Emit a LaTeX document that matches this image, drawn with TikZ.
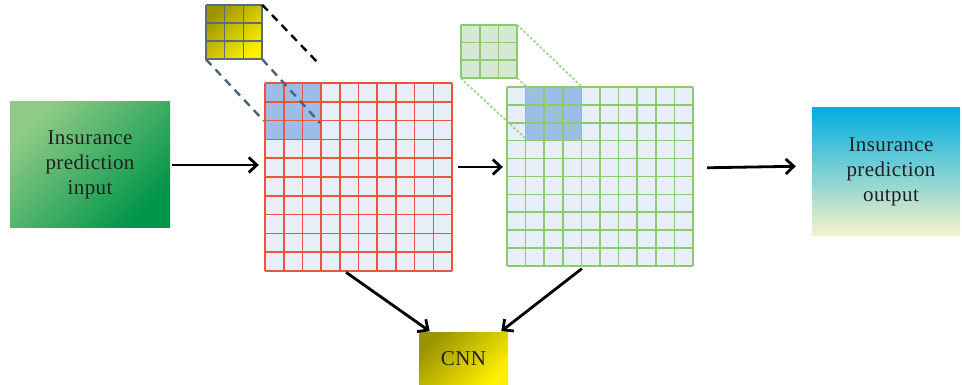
\documentclass[tikz,border=0pt]{standalone}
\usepackage{fontspec}
\setmainfont{Liberation Serif}[LetterSpace=2]
\usetikzlibrary{arrows.meta}
\definecolor{cellbg}{HTML}{E8EEF8}
\definecolor{cellblue}{HTML}{9BBDE6}
\definecolor{redline}{HTML}{E8573D}
\definecolor{greenline}{HTML}{8CCB6C}
\definecolor{greenk}{HTML}{D5E8D4}
\definecolor{kgray}{HTML}{5A6B7B}
\definecolor{dashblue}{HTML}{4A6378}
\definecolor{dotgreen}{HTML}{9FD58A}
\definecolor{inlight}{HTML}{8FCB86}
\definecolor{indark}{HTML}{00954A}
\definecolor{inmid}{HTML}{45B063}
\definecolor{ydark}{HTML}{9A9400}
\definecolor{ylight}{HTML}{FFF000}
\definecolor{ocyan}{HTML}{00AEDF}
\definecolor{omid}{HTML}{98D3D6}
\definecolor{opale}{HTML}{F6F2C9}
\definecolor{txtc}{HTML}{231F20}
\begin{document}
\begin{tikzpicture}[x=1pt,y=-1pt,
  txt/.style={font=\fontsize{21}{25}\selectfont, align=center, text=txtc},
  inbox/.style={txt, minimum width=160pt, minimum height=126pt, inner sep=0pt,
    top color=inlight, middle color=inmid, bottom color=indark, shading angle=45},
  outbox/.style={txt, minimum width=148pt, minimum height=127pt, inner sep=0pt,
    top color=ocyan, middle color=omid, bottom color=opale},
  cnnbox/.style={txt, minimum width=89pt, minimum height=53pt, inner sep=0pt,
    top color=ydark, bottom color=ylight, shading angle=45},
  ykbox/.style={minimum width=56pt, minimum height=54pt, inner sep=0pt,
    top color=ydark, bottom color=ylight, shading angle=45},
  gkbox/.style={minimum width=56pt, minimum height=53pt, inner sep=0pt, fill=greenk},
  gridbox/.style={inner sep=0pt, draw=none},
  rline/.style={draw=redline, line width=1.6pt},
  gline/.style={draw=greenline, line width=1.6pt},
  kline/.style={draw=kgray, line width=1.4pt},
  blackdash/.style={black, line width=2.4pt, dash pattern=on 8pt off 6pt},
  bluedash/.style={dashblue, line width=2.4pt, dash pattern=on 8pt off 6pt},
  dotline/.style={dotgreen, line width=1.8pt, dash pattern=on 2.5pt off 2pt},
  arr/.style={black, line width=2.8pt, -{Straight Barb[length=8pt,width=15pt]}}
]
\useasboundingbox (0,0) rectangle (962,385);

% input and output boxes
\node[inbox] (input) at (90,165) {Insurance\\prediction\\input};
\node[outbox] (output) at (886,171.5) {\hspace{10pt}Insurance\\\hspace{10pt}prediction\\\hspace{10pt}output};
\node[cnnbox] (cnn) at (463.5,358.5) {CNN};

% red grid
\fill[cellbg] (265,83) rectangle (452,271);
\fill[cellblue] (265,83) rectangle (321,139);
\path[rline] (265,83) -- (265,271) (283.7,83) -- (283.7,271) (302.4,83) -- (302.4,271)
  (321.1,83) -- (321.1,271) (339.8,83) -- (339.8,271) (358.5,83) -- (358.5,271)
  (377.2,83) -- (377.2,271) (395.9,83) -- (395.9,271) (414.6,83) -- (414.6,271)
  (433.3,83) -- (433.3,271) (452,83) -- (452,271)
  (265,83) -- (452,83) (265,101.8) -- (452,101.8) (265,120.6) -- (452,120.6)
  (265,139.4) -- (452,139.4) (265,158.2) -- (452,158.2) (265,177) -- (452,177)
  (265,195.8) -- (452,195.8) (265,214.6) -- (452,214.6) (265,233.4) -- (452,233.4)
  (265,252.2) -- (452,252.2) (265,271) -- (452,271);
\node[gridbox, minimum width=187pt, minimum height=188pt] (red) at (358.5,177) {};

% green grid
\fill[cellbg] (507,87) rectangle (693,266);
\fill[cellblue] (525.6,87) rectangle (581.4,140.7);
\path[gline] (507,87) -- (507,266) (525.6,87) -- (525.6,266) (544.2,87) -- (544.2,266)
  (562.8,87) -- (562.8,266) (581.4,87) -- (581.4,266) (600,87) -- (600,266)
  (618.6,87) -- (618.6,266) (637.2,87) -- (637.2,266) (655.8,87) -- (655.8,266)
  (674.4,87) -- (674.4,266) (693,87) -- (693,266)
  (507,87) -- (693,87) (507,104.9) -- (693,104.9) (507,122.8) -- (693,122.8)
  (507,140.7) -- (693,140.7) (507,158.6) -- (693,158.6) (507,176.5) -- (693,176.5)
  (507,194.4) -- (693,194.4) (507,212.3) -- (693,212.3) (507,230.2) -- (693,230.2)
  (507,248.1) -- (693,248.1) (507,266) -- (693,266);
\node[gridbox, minimum width=186pt, minimum height=179pt] (green) at (600,176.5) {};

% yellow kernel
\node[ykbox] (ykern) at (234,32) {};
\path[kline] (206,5) -- (206,59) (224.7,5) -- (224.7,59) (243.3,5) -- (243.3,59) (262,5) -- (262,59)
  (206,5) -- (262,5) (206,23) -- (262,23) (206,41) -- (262,41) (206,59) -- (262,59);

% green kernel
\node[gkbox] (gkern) at (489,51.5) {};
\path[gline] (461,25) -- (461,78) (479.7,25) -- (479.7,78) (498.3,25) -- (498.3,78) (517,25) -- (517,78)
  (461,25) -- (517,25) (461,42.7) -- (517,42.7) (461,60.3) -- (517,60.3) (461,78) -- (517,78);

% projection lines
\coordinate (bA) at (320,65);
\coordinate (bB) at (264,121);
\coordinate (bC) at (320,123);
\draw[blackdash] (ykern.north east) -- (bA);
\draw[bluedash] (ykern.south west) -- (bB);
\draw[bluedash] (ykern.south east) -- (bC);

\coordinate (gA) at (582,87);
\coordinate (gB) at (582,138);
\coordinate (gC) at (525,138);
\draw[dotline] (gkern.north east) -- (gA);
\draw[dotline] (gkern.south east) -- (gB);
\draw[dotline] (gkern.south west) -- (gC);

% arrows
\draw[arr, shorten <=2pt, shorten >=6pt] (input.east) -- (input.east -| red.west);
\draw[arr, shorten <=6pt, shorten >=4pt] ([yshift=10pt]red.east) -- ([yshift=10pt]red.east -| green.west);
\draw[arr, shorten <=14pt, shorten >=16pt] ([yshift=8.5pt]green.east) -- ([yshift=5.5pt]output.west);
\draw[arr, shorten <=2pt, shorten >=1pt] ([xshift=-14pt]red.south) -- ([xshift=-33pt]cnn.north);
\draw[arr, shorten <=4pt, shorten >=1pt] ([xshift=-15pt]green.south) -- ([xshift=37pt]cnn.north);
\end{tikzpicture}
\end{document}
